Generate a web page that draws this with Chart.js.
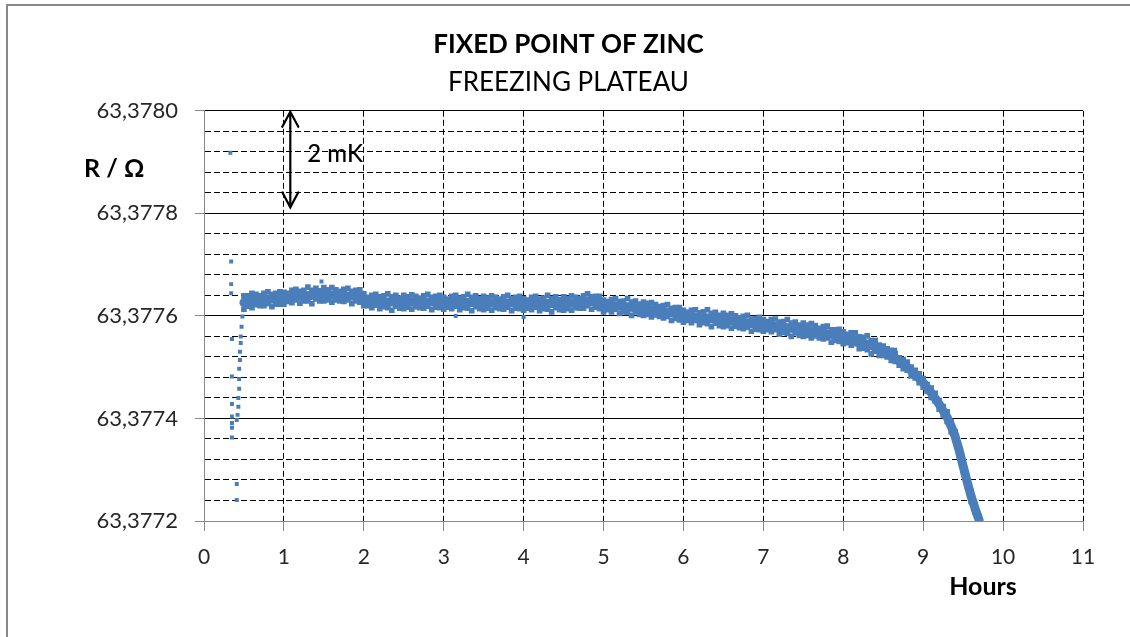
<!DOCTYPE html>
<html>
<head>
<meta charset="utf-8">
<title>Fixed point of zinc - freezing plateau</title>
<script src="https://cdn.jsdelivr.net/npm/chart.js@4.4.1/dist/chart.umd.min.js"></script>
<style>
    html, body { margin: 0; padding: 0; background: #fff; overflow: hidden; width: 1130px; height: 637px; }
    ::-webkit-scrollbar { display: none; width: 0; height: 0; }
    html { scrollbar-width: none; }
    #plateau { display: block; }
</style>
</head>
<body>
<canvas id="plateau" width="1130" height="637"></canvas>
<script>
// Tiempo en horas y resistencia en ohm
const hours = [
    0.50, 0.55, 0.60, 0.65, 0.70, 0.75, 0.80, 0.85, 0.90, 0.95,
    1.00, 1.05, 1.10, 1.15, 1.20, 1.25, 1.30, 1.35, 1.40, 1.45,
    1.50, 1.55, 1.60, 1.65, 1.70, 1.75, 1.80, 1.85, 1.90, 1.95,
    2.00, 2.05, 2.10, 2.15, 2.20, 2.25, 2.30, 2.35, 2.40, 2.45,
    2.50, 2.55, 2.60, 2.65, 2.70, 2.75, 2.80, 2.85, 2.90, 2.95,
    3.00, 3.05, 3.10, 3.15, 3.20, 3.25, 3.30, 3.35, 3.40, 3.45,
    3.50, 3.55, 3.60, 3.65, 3.70, 3.75, 3.80, 3.85, 3.90, 3.95,
    4.00, 4.05, 4.10, 4.15, 4.20, 4.25, 4.30, 4.35, 4.40, 4.45,
    4.50, 4.55, 4.60, 4.65, 4.70, 4.75, 4.80, 4.85, 4.90, 4.95,
    5.00, 5.05, 5.10, 5.15, 5.20, 5.25, 5.30, 5.35, 5.40, 5.45,
    5.50, 5.55, 5.60, 5.65, 5.70, 5.75, 5.80, 5.85, 5.90, 5.95,
    6.00, 6.05, 6.10, 6.15, 6.20, 6.25, 6.30, 6.35, 6.40, 6.45,
    6.50, 6.55, 6.60, 6.65, 6.70, 6.75, 6.80, 6.85, 6.90, 6.95,
    7.00, 7.05, 7.10, 7.15, 7.20, 7.25, 7.30, 7.35, 7.40, 7.45,
    7.50, 7.55, 7.60, 7.65, 7.70, 7.75, 7.80, 7.85, 7.90, 7.95,
    8.00, 8.05, 8.10, 8.15, 8.20, 8.25, 8.30, 8.35, 8.40, 8.45,
    8.50, 8.55, 8.60, 8.65, 8.70, 8.75, 8.80, 8.85, 8.90, 8.95,
    9.00, 9.05, 9.10, 9.15, 9.20, 9.25, 9.30, 9.35, 9.40, 9.45,
    9.50, 9.55, 9.60, 9.65, 9.70
];

// centro de la banda de puntos
const rMid = [
    63.377626, 63.377629, 63.377630, 63.377631, 63.377631, 63.377632, 63.377632, 63.377633, 63.377633, 63.377634,
    63.377636, 63.377637, 63.377638, 63.377638, 63.377639, 63.377639, 63.377640, 63.377640, 63.377641, 63.377641,
    63.377642, 63.377641, 63.377641, 63.377640, 63.377640, 63.377640, 63.377639, 63.377639, 63.377639, 63.377638,
    63.377633, 63.377629, 63.377628, 63.377628, 63.377628, 63.377628, 63.377627, 63.377627, 63.377627, 63.377627,
    63.377627, 63.377627, 63.377627, 63.377627, 63.377627, 63.377627, 63.377627, 63.377627, 63.377627, 63.377627,
    63.377626, 63.377626, 63.377626, 63.377626, 63.377626, 63.377626, 63.377626, 63.377626, 63.377626, 63.377626,
    63.377625, 63.377625, 63.377625, 63.377625, 63.377625, 63.377625, 63.377625, 63.377625, 63.377625, 63.377625,
    63.377624, 63.377624, 63.377624, 63.377624, 63.377624, 63.377624, 63.377624, 63.377624, 63.377624, 63.377624,
    63.377624, 63.377624, 63.377625, 63.377625, 63.377626, 63.377627, 63.377628, 63.377628, 63.377627, 63.377625,
    63.377621, 63.377621, 63.377620, 63.377620, 63.377619, 63.377618, 63.377618, 63.377617, 63.377616, 63.377615,
    63.377614, 63.377613, 63.377612, 63.377611, 63.377610, 63.377608, 63.377607, 63.377606, 63.377605, 63.377603,
    63.377601, 63.377600, 63.377599, 63.377598, 63.377597, 63.377597, 63.377596, 63.377595, 63.377594, 63.377593,
    63.377592, 63.377591, 63.377590, 63.377589, 63.377588, 63.377587, 63.377586, 63.377585, 63.377584, 63.377584,
    63.377583, 63.377582, 63.377581, 63.377580, 63.377579, 63.377578, 63.377577, 63.377576, 63.377575, 63.377574,
    63.377573, 63.377572, 63.377571, 63.377570, 63.377568, 63.377567, 63.377565, 63.377564, 63.377562, 63.377561,
    63.377559, 63.377557, 63.377555, 63.377553, 63.377550, 63.377547, 63.377545, 63.377542, 63.377539, 63.377535,
    63.377532, 63.377528, 63.377523, 63.377518, 63.377512, 63.377506, 63.377500, 63.377493, 63.377486, 63.377478,
    63.377470, 63.377460, 63.377450, 63.377439, 63.377428, 63.377415, 63.377402, 63.377385, 63.377365, 63.377338,
    63.377307, 63.377277, 63.377248, 63.377224, 63.377202
];

// borde superior de la banda (ruido)
const rHigh = [
    63.377639, 63.377639, 63.377644, 63.377642, 63.377639, 63.377644, 63.377647, 63.377642, 63.377644, 63.377647,
    63.377646, 63.377644, 63.377650, 63.377652, 63.377648, 63.377650, 63.377656, 63.377650, 63.377654, 63.377649,
    63.377655, 63.377651, 63.377655, 63.377651, 63.377648, 63.377652, 63.377654, 63.377648, 63.377650, 63.377651,
    63.377643, 63.377636, 63.377640, 63.377642, 63.377637, 63.377639, 63.377643, 63.377637, 63.377640, 63.377635,
    63.377640, 63.377637, 63.377641, 63.377638, 63.377635, 63.377639, 63.377642, 63.377636, 63.377638, 63.377640,
    63.377636, 63.377633, 63.377638, 63.377640, 63.377635, 63.377637, 63.377642, 63.377636, 63.377639, 63.377634,
    63.377638, 63.377635, 63.377639, 63.377636, 63.377633, 63.377637, 63.377640, 63.377634, 63.377636, 63.377638,
    63.377634, 63.377631, 63.377636, 63.377638, 63.377633, 63.377635, 63.377640, 63.377634, 63.377637, 63.377632,
    63.377637, 63.377634, 63.377639, 63.377636, 63.377634, 63.377639, 63.377643, 63.377637, 63.377638, 63.377638,
    63.377631, 63.377628, 63.377632, 63.377634, 63.377628, 63.377629, 63.377634, 63.377627, 63.377629, 63.377623,
    63.377627, 63.377623, 63.377626, 63.377622, 63.377618, 63.377620, 63.377622, 63.377615, 63.377616, 63.377616,
    63.377611, 63.377607, 63.377611, 63.377612, 63.377606, 63.377608, 63.377612, 63.377605, 63.377607, 63.377601,
    63.377605, 63.377601, 63.377604, 63.377600, 63.377596, 63.377599, 63.377601, 63.377594, 63.377595, 63.377597,
    63.377593, 63.377589, 63.377593, 63.377594, 63.377588, 63.377589, 63.377593, 63.377586, 63.377588, 63.377582,
    63.377586, 63.377582, 63.377585, 63.377581, 63.377576, 63.377579, 63.377580, 63.377573, 63.377573, 63.377574,
    63.377569, 63.377564, 63.377567, 63.377567, 63.377559, 63.377558, 63.377561, 63.377552, 63.377552, 63.377543,
    63.377541, 63.377536, 63.377533, 63.377526, 63.377518, 63.377515, 63.377510, 63.377500, 63.377494, 63.377487,
    63.377478, 63.377466, 63.377459, 63.377449, 63.377435, 63.377423, 63.377413, 63.377393, 63.377374, 63.377344,
    63.377316, 63.377285, 63.377258, 63.377232, 63.377208
];

// borde inferior de la banda (ruido)
const rLow = [
    63.377613, 63.377619, 63.377616, 63.377622, 63.377620, 63.377620, 63.377624, 63.377618, 63.377623, 63.377623,
    63.377623, 63.377628, 63.377626, 63.377631, 63.377625, 63.377629, 63.377629, 63.377624, 63.377633, 63.377629,
    63.377629, 63.377631, 63.377627, 63.377631, 63.377629, 63.377628, 63.377631, 63.377624, 63.377629, 63.377627,
    63.377620, 63.377620, 63.377616, 63.377621, 63.377614, 63.377618, 63.377616, 63.377611, 63.377619, 63.377615,
    63.377614, 63.377617, 63.377613, 63.377618, 63.377616, 63.377615, 63.377619, 63.377612, 63.377617, 63.377616,
    63.377613, 63.377617, 63.377614, 63.377619, 63.377612, 63.377616, 63.377615, 63.377610, 63.377618, 63.377614,
    63.377612, 63.377615, 63.377611, 63.377616, 63.377614, 63.377613, 63.377617, 63.377610, 63.377615, 63.377614,
    63.377611, 63.377615, 63.377612, 63.377617, 63.377610, 63.377614, 63.377613, 63.377608, 63.377616, 63.377612,
    63.377611, 63.377614, 63.377611, 63.377616, 63.377615, 63.377615, 63.377620, 63.377613, 63.377617, 63.377614,
    63.377608, 63.377612, 63.377608, 63.377613, 63.377605, 63.377608, 63.377607, 63.377601, 63.377608, 63.377603,
    63.377601, 63.377603, 63.377598, 63.377602, 63.377599, 63.377596, 63.377599, 63.377591, 63.377595, 63.377592,
    63.377588, 63.377591, 63.377587, 63.377591, 63.377583, 63.377587, 63.377585, 63.377579, 63.377586, 63.377581,
    63.377579, 63.377581, 63.377576, 63.377580, 63.377577, 63.377575, 63.377578, 63.377570, 63.377574, 63.377573,
    63.377570, 63.377573, 63.377569, 63.377573, 63.377565, 63.377568, 63.377566, 63.377560, 63.377567, 63.377562,
    63.377560, 63.377562, 63.377557, 63.377561, 63.377557, 63.377555, 63.377557, 63.377549, 63.377552, 63.377550,
    63.377546, 63.377548, 63.377543, 63.377546, 63.377536, 63.377537, 63.377534, 63.377526, 63.377531, 63.377523,
    63.377523, 63.377520, 63.377513, 63.377511, 63.377504, 63.377497, 63.377494, 63.377483, 63.377479, 63.377470,
    63.377461, 63.377453, 63.377441, 63.377434, 63.377418, 63.377407, 63.377394, 63.377374, 63.377359, 63.377329,
    63.377298, 63.377269, 63.377238, 63.377217, 63.377200
];

// puntos sueltos: arranque del plateau y algunos valores atipicos
const looseHours = [
    0.33, 0.34, 0.34, 0.34, 0.35, 0.35, 0.35, 0.35, 0.35, 0.35, 0.35, 0.41, 0.41,
    0.41, 0.42, 0.43, 0.43, 0.44, 0.44, 0.44, 0.45, 0.45, 0.46, 0.46, 0.47, 0.48, 0.49, 0.50,
    1.47, 3.15, 4.00, 5.54, 8.65
];
const looseR = [
    63.377918, 63.377706, 63.377662, 63.377644, 63.377555, 63.377482, 63.377428, 63.377404, 63.377391, 63.377382, 63.377363, 63.377272, 63.377241,
    63.377397, 63.377407, 63.377423, 63.377440, 63.377458, 63.377477, 63.377497, 63.377514, 63.377530, 63.377547, 63.377560, 63.377579, 63.377599, 63.377612, 63.377625,
    63.377667, 63.377600, 63.377598, 63.377626, 63.377534
];

const yTicksMin = 63.3772;
const yTicksMax = 63.3780;
const yMinorStep = 0.00004;
const xTicksMax = 11;

const DOT_COLOR = '#4a7ebb';
const TEXT_COLOR = '#262626';

function isMajor(value) {
    const v = value * 5000;
    return Math.abs(v - Math.round(v)) < 1e-3;
}

function toPoints(xs, ys) {
    return xs.map((x, i) => ({ x, y: ys[i] }));
}

// marco gris de la hoja (solo se ven los lados izquierdo y superior)
const framePlugin = {
    id: 'frame',
    beforeDraw(chart) {
        const { ctx } = chart;
        ctx.save();
        ctx.fillStyle = '#fff';
        ctx.fillRect(0, 0, chart.width, chart.height);
        ctx.strokeStyle = '#888';
        ctx.lineWidth = 2;
        ctx.beginPath();
        ctx.moveTo(7, chart.height);
        ctx.lineTo(7, 5);
        ctx.lineTo(chart.width, 5);
        ctx.stroke();
        ctx.restore();
    }
};

const annotationsPlugin = {
    id: 'annotations',
    afterDraw(chart) {
        const { ctx } = chart;
        const xs = chart.scales.x;
        const ys = chart.scales.y;

        ctx.save();
        ctx.fillStyle = '#000';
        ctx.textBaseline = 'middle';

        // etiqueta del eje Y
        ctx.font = 'bold 25px Lato';
        ctx.textAlign = 'left';
        ctx.fillText('R / \u03A9', 84, 169);

        // etiqueta del eje X
        ctx.textAlign = 'center';
        ctx.fillText('Hours', 983, 587);

        // flecha de 2 mK
        const ax = xs.getPixelForValue(1.08);
        const top = ys.getPixelForValue(yTicksMax) + 1;
        const bottom = ys.getPixelForValue(63.3778) - 6;
        ctx.strokeStyle = '#000';
        ctx.lineWidth = 2.2;
        ctx.lineCap = 'round';
        ctx.beginPath();
        ctx.moveTo(ax, top);
        ctx.lineTo(ax, bottom);
        ctx.moveTo(ax - 8, top + 15);
        ctx.lineTo(ax, top);
        ctx.lineTo(ax + 8, top + 15);
        ctx.moveTo(ax - 8, bottom - 15);
        ctx.lineTo(ax, bottom);
        ctx.lineTo(ax + 8, bottom - 15);
        ctx.stroke();

        ctx.font = '500 24px Lato';
        ctx.textAlign = 'left';
        ctx.fillText('2 mK', ax + 17, 154);
        ctx.restore();
    }
};

Chart.defaults.font.family = 'Lato';

new Chart(document.getElementById('plateau'), {
    type: 'scatter',
    data: {
        datasets: [
            {
                label: 'banda',
                data: toPoints(hours, rMid),
                showLine: true,
                borderColor: DOT_COLOR,
                borderWidth: 9,
                borderCapStyle: 'round',
                borderJoinStyle: 'round',
                pointRadius: 0,
                clip: 0
            },
            {
                label: 'alto',
                data: toPoints(hours, rHigh),
                pointStyle: 'rect',
                pointRadius: 4,
                backgroundColor: DOT_COLOR,
                borderWidth: 0,
                clip: 0
            },
            {
                label: 'bajo',
                data: toPoints(hours, rLow),
                pointStyle: 'rect',
                pointRadius: 4,
                backgroundColor: DOT_COLOR,
                borderWidth: 0,
                clip: 0
            },
            {
                label: 'sueltos',
                data: toPoints(looseHours, looseR),
                pointStyle: 'rect',
                pointRadius: 2.8,
                backgroundColor: DOT_COLOR,
                borderWidth: 0,
                clip: 0
            }
        ]
    },
    options: {
        responsive: false,
        animation: false,
        layout: { padding: { top: 0, left: 54, right: 47, bottom: 46 } },
        plugins: {
            legend: { display: false },
            tooltip: { enabled: false },
            title: {
                display: true,
                text: 'FIXED POINT OF ZINC',
                color: '#000',
                font: { size: 26, weight: 'bold' },
                padding: { top: 29, bottom: 3 }
            },
            subtitle: {
                display: true,
                text: 'FREEZING PLATEAU',
                color: '#000',
                font: { size: 26, weight: 'normal' },
                padding: { top: 4, bottom: 12.4 }
            }
        },
        scales: {
            x: {
                type: 'linear',
                min: 0,
                max: xTicksMax,
                afterFit(scale) { scale.height = 70; },
                ticks: {
                    stepSize: 1,
                    autoSkip: false,
                    maxRotation: 0,
                    padding: 14,
                    color: TEXT_COLOR,
                    font: { size: 21 }
                },
                grid: {
                    color: ctx => (ctx.tick && ctx.tick.value === 0) ? 'rgba(0,0,0,0)' : '#000',
                    lineWidth: 1,
                    tickLength: 10,
                    tickColor: '#888'
                },
                border: { display: true, color: '#888', width: 1, dash: [6, 3] }
            },
            y: {
                type: 'linear',
                min: yTicksMin,
                max: yTicksMax,
                afterFit(scale) { scale.width = 150; },
                ticks: {
                    stepSize: yMinorStep,
                    autoSkip: false,
                    padding: 17,
                    color: TEXT_COLOR,
                    font: { size: 22 },
                    callback: value => isMajor(value) ? value.toFixed(4).replace('.', ',') : ''
                },
                grid: {
                    color: ctx => (ctx.tick && Math.abs(ctx.tick.value - yTicksMin) < 1e-7) ? 'rgba(0,0,0,0)' : '#000',
                    lineWidth: 1,
                    tickLength: 9,
                    tickColor: ctx => (ctx.tick && isMajor(ctx.tick.value)) ? '#888' : 'rgba(0,0,0,0)'
                },
                border: {
                    display: true,
                    color: '#888',
                    width: 1,
                    dash: ctx => (ctx.tick && !isMajor(ctx.tick.value)) ? [6, 3] : []
                }
            }
        }
    },
    plugins: [framePlugin, annotationsPlugin]
});
</script>
</body>
</html>
